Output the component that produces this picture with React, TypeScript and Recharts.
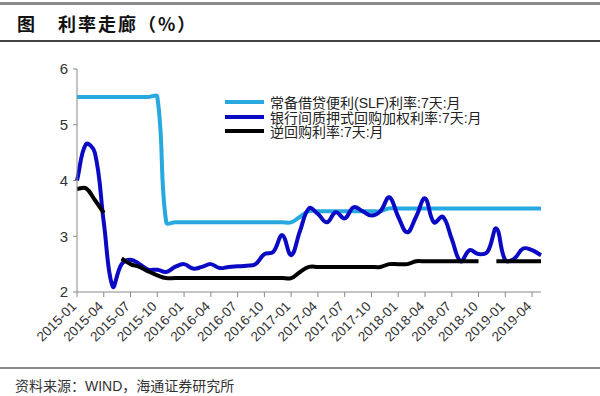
import { LineChart, Line, XAxis, YAxis } from "recharts";

const months = [
  "2015-01", "2015-02", "2015-03", "2015-04", "2015-05", "2015-06", "2015-07", "2015-08", "2015-09", "2015-10", "2015-11", "2015-12",
  "2016-01", "2016-02", "2016-03", "2016-04", "2016-05", "2016-06", "2016-07", "2016-08", "2016-09", "2016-10", "2016-11", "2016-12",
  "2017-01", "2017-02", "2017-03", "2017-04", "2017-05", "2017-06", "2017-07", "2017-08", "2017-09", "2017-10", "2017-11", "2017-12",
  "2018-01", "2018-02", "2018-03", "2018-04", "2018-05", "2018-06", "2018-07", "2018-08", "2018-09", "2018-10", "2018-11", "2018-12",
  "2019-01", "2019-02", "2019-03", "2019-04", "2019-05",
];

// 常备借贷便利(SLF)利率:7天
const slf = [
  5.5, 5.5, 5.5, 5.5, 5.5, 5.5, 5.5, 5.5, 5.5, 5.5,
  3.25, 3.25, 3.25, 3.25, 3.25, 3.25, 3.25, 3.25, 3.25, 3.25, 3.25, 3.25, 3.25, 3.25, 3.25,
  3.35,
  3.45, 3.45, 3.45, 3.45, 3.45, 3.45, 3.45, 3.45, 3.45,
  3.5, 3.5, 3.5, 3.5, 3.5, 3.5, 3.5, 3.5, 3.5, 3.5, 3.5, 3.5, 3.5, 3.5, 3.5, 3.5, 3.5, 3.5,
];

// 银行间质押式回购加权利率:7天
const repo = [
  4.0, 4.65, 4.5, 3.25, 2.1, 2.5, 2.58, 2.5, 2.4, 2.4, 2.36, 2.45,
  2.5, 2.42, 2.45, 2.5, 2.43, 2.45, 2.46, 2.47, 2.5, 2.68, 2.72, 3.02,
  2.66, 3.1, 3.5, 3.4, 3.25, 3.43, 3.32, 3.52, 3.45, 3.37, 3.45, 3.7,
  3.35, 3.07, 3.35, 3.68, 3.25, 3.35, 2.95, 2.55, 2.75, 2.68, 2.72, 3.14,
  2.57, 2.6, 2.78, 2.75, 2.66,
];

// 逆回购利率:7天 (null = no operation that month)
const reverseRepo = [
  3.85, 3.86, 3.65, 3.42, null, 2.6, 2.5, 2.45, 2.37, 2.3,
  2.25, 2.25, 2.25, 2.25, 2.25, 2.25, 2.25, 2.25, 2.25, 2.25, 2.25, 2.25, 2.25, 2.25, 2.25,
  2.36,
  2.45, 2.45, 2.45, 2.45, 2.45, 2.45, 2.45, 2.45, 2.45,
  2.5, 2.5, 2.5,
  2.55, 2.55, 2.55, 2.55, 2.55, 2.55, 2.55, 2.55,
  null,
  2.55, 2.55, 2.55, 2.55, 2.55, 2.55,
];

const yTicks = [2, 3, 4, 5, 6];

const series = [
  { key: "slf", name: "常备借贷便利(SLF)利率:7天:月", color: "#27a8df" },
  { key: "repo", name: "银行间质押式回购加权利率:7天:月", color: "#0a0ac4" },
  { key: "rr", name: "逆回购利率:7天:月", color: "#000000" },
];

const data = months.map((m, i) => ({
  month: m,
  slf: slf[i],
  repo: repo[i],
  rr: reverseRepo[i],
}));

// Excel-like smoothed line (bezier with chord-weighted tangents)
const SMOOTH = 0.4;
const excelSmooth = (context: any) => {
  let pts: number[][] = [];
  const dist = (a: number[], b: number[]) => Math.hypot(b[0] - a[0], b[1] - a[1]);
  return {
    areaStart() {},
    areaEnd() {},
    lineStart() {
      pts = [];
    },
    point(x: number, y: number) {
      pts.push([+x, +y]);
    },
    lineEnd() {
      const n = pts.length;
      if (!n) return;
      context.moveTo(pts[0][0], pts[0][1]);
      if (n === 1) {
        context.lineTo(pts[0][0], pts[0][1]);
        return;
      }
      for (let i = 0; i < n - 1; i++) {
        const p0 = pts[Math.max(i - 1, 0)];
        const p1 = pts[i];
        const p2 = pts[i + 1];
        const p3 = pts[Math.min(i + 2, n - 1)];
        const d0 = dist(p0, p1);
        const d1 = dist(p1, p2);
        const d2 = dist(p2, p3);
        const a = d0 + d1 > 0 ? (SMOOTH * d1) / (d0 + d1) : 0;
        const b = d1 + d2 > 0 ? (SMOOTH * d1) / (d1 + d2) : 0;
        context.bezierCurveTo(
          p1[0] + (p2[0] - p0[0]) * a,
          p1[1] + (p2[1] - p0[1]) * a,
          p2[0] - (p3[0] - p1[0]) * b,
          p2[1] - (p3[1] - p1[1]) * b,
          p2[0],
          p2[1]
        );
      }
    },
  };
};

const XTick = ({ x, y, payload }: any) => (
  <g transform={`translate(${x - 4},${y + 4})`}>
    <text
      x={0}
      y={0}
      dy={6}
      textAnchor="end"
      transform="rotate(-45)"
      fontSize={13.5}
      fill="#333"
      fontFamily="'Liberation Sans', Arial, sans-serif"
    >
      {payload.value}
    </text>
  </g>
);

const font = "'Liberation Sans', Arial, 'Noto Sans CJK SC', sans-serif";

export default function App() {
  return (
    <div
      style={{
        position: "absolute",
        left: 0,
        top: 0,
        width: 600,
        height: 396,
        background: "#fff",
        overflow: "hidden",
        fontFamily: font,
      }}
    >
      <div style={{ position: "absolute", left: 0, top: 2, width: 600, height: 3, background: "#8a8a8a" }} />
      <div
        style={{
          position: "absolute",
          left: 17,
          top: 11,
          fontSize: 18,
          fontWeight: 700,
          color: "#111",
          fontFamily: "'Noto Sans CJK SC', sans-serif",
          lineHeight: "24px",
        }}
      >
        图
      </div>
      <div
        style={{
          position: "absolute",
          left: 58,
          top: 11,
          fontSize: 18,
          fontWeight: 700,
          letterSpacing: 2,
          color: "#111",
          fontFamily: "'Noto Sans CJK SC', sans-serif",
          lineHeight: "24px",
        }}
      >
        利率走廊（%）
      </div>
      <div style={{ position: "absolute", left: 0, top: 40, width: 600, height: 1.5, background: "#444" }} />

      <div style={{ position: "absolute", left: 0, top: 0 }}>
        <LineChart width={600} height={396} data={data} margin={{ top: 69, right: 59, bottom: 44, left: 0 }}>
          <XAxis
            dataKey="month"
            interval={2}
            tick={<XTick />}
            tickSize={5}
            height={60}
            axisLine={{ stroke: "#888" }}
            tickLine={{ stroke: "#888" }}
          />
          <YAxis
            domain={[2, 6]}
            ticks={yTicks}
            width={77}
            tickSize={4}
            tickMargin={5}
            axisLine={{ stroke: "#888" }}
            tickLine={{ stroke: "#888" }}
            tick={{ fontSize: 15, fill: "#333", fontFamily: font }}
          />
          {series.map((s) => (
            <Line
              key={s.key}
              dataKey={s.key}
              name={s.name}
              type={excelSmooth as any}
              stroke={s.color}
              strokeWidth={4}
              dot={false}
              activeDot={false}
              connectNulls={false}
              isAnimationActive={false}
            />
          ))}
        </LineChart>
      </div>

      <div style={{ position: "absolute", left: 225, top: 95, fontFamily: font, fontSize: 14, color: "#222" }}>
        {series.map((s) => (
          <div key={s.key} style={{ display: "flex", alignItems: "center", height: 14.5, whiteSpace: "nowrap" }}>
            <div style={{ width: 39, height: 4, background: s.color, marginRight: 6 }} />
            <span>{s.name}</span>
          </div>
        ))}
      </div>

      <div style={{ position: "absolute", left: 0, top: 367, width: 600, height: 2, background: "#8a8a8a" }} />
      <div
        style={{
          position: "absolute",
          left: 15,
          top: 376,
          fontSize: 14,
          color: "#333",
          fontFamily: font,
          lineHeight: "20px",
        }}
      >
        资料来源：WIND，海通证券研究所
      </div>
    </div>
  );
}
